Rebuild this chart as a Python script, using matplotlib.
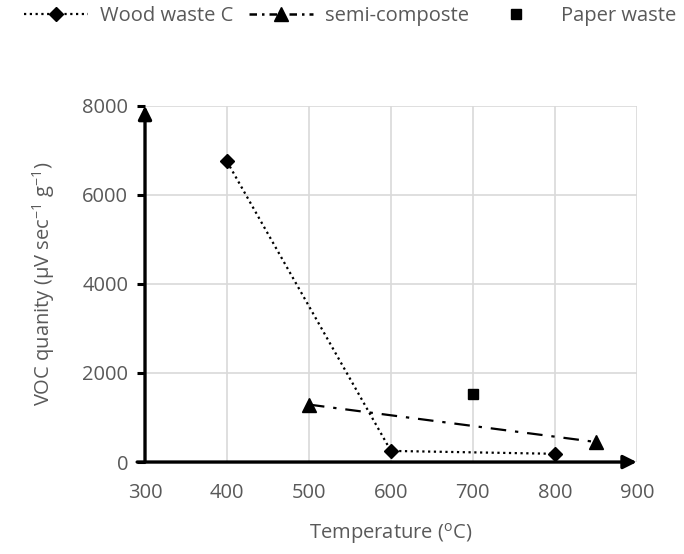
import matplotlib
matplotlib.use("Agg")
import matplotlib.pyplot as plt
from matplotlib.lines import Line2D

plt.rcParams["font.family"] = ["Open Sans", "DejaVu Sans"]
plt.rcParams["mathtext.fontset"] = "custom"
plt.rcParams["mathtext.rm"] = "Open Sans"
plt.rcParams["mathtext.it"] = "Open Sans"
plt.rcParams["mathtext.bf"] = "Open Sans"

# data
wood_temp = [400, 600, 800]
wood_voc = [6750, 250, 185]
semi_temp = [500, 850]
semi_voc = [1290, 450]
paper_temp = [700]
paper_voc = [1530]

x_ticks = [300, 400, 500, 600, 700, 800, 900]
y_ticks = [0, 2000, 4000, 6000, 8000]

text_gray = "#595959"
grid_gray = "#d9d9d9"
fs = 14.5

fig = plt.figure(figsize=(6.84, 5.54), dpi=100)
ax = fig.add_axes([0.212, 0.166, 0.719, 0.643])

ax.set_xlim(300, 900)
ax.set_ylim(0, 8000)
ax.set_xticks(x_ticks)
ax.set_yticks(y_ticks)
ax.grid(True, color=grid_gray, linewidth=1.2)
ax.set_axisbelow(True)
for s in ax.spines.values():
    s.set_visible(False)
ax.tick_params(axis="x", length=0, labelsize=fs, labelcolor=text_gray, pad=15)
ax.tick_params(axis="y", length=6, width=2.2, color="black", direction="out",
               labelsize=fs, labelcolor=text_gray, pad=6)

# axis arrows
ax.annotate("", xy=(1.0, 0), xytext=(-0.016, 0), xycoords="axes fraction",
            arrowprops=dict(arrowstyle="-|>", lw=2.4, color="black",
                            mutation_scale=20, shrinkA=0, shrinkB=0))
ax.annotate("", xy=(0, 1.0), xytext=(0, 0), xycoords="axes fraction",
            arrowprops=dict(arrowstyle="-|>", lw=2.4, color="black",
                            mutation_scale=20, shrinkA=0, shrinkB=0))

ax.plot(wood_temp, wood_voc, color="black", linestyle=(0, (1, 1.6)), linewidth=1.6,
        marker="D", markersize=7.5, clip_on=False, zorder=4)
ax.plot(semi_temp, semi_voc, color="black", linestyle=(0, (7, 4, 1.5, 4)), linewidth=1.6,
        marker="^", markersize=10, clip_on=False, zorder=4)
ax.plot(paper_temp, paper_voc, color="black", linestyle="none",
        marker="s", markersize=7.5, zorder=4)

ax.set_xlabel("Temperature ($^{o}$C)", fontsize=fs, color=text_gray, labelpad=13)
ax.set_ylabel("VOC quanity (µV sec$^{-1}$ g$^{-1}$)", fontsize=fs, color=text_gray,
              labelpad=18)

handles = [
    Line2D([], [], color="black", linestyle=(0, (1, 1.6)), linewidth=1.6,
           marker="D", markersize=7.5),
    Line2D([], [], color="black", linestyle=(0, (3, 2, 1, 2)), linewidth=1.8,
           marker="^", markersize=10),
    Line2D([], [], color="black", linestyle="none", marker="s", markersize=7.5),
]
labels = ["Wood waste C", "semi-composte", "Paper waste"]
fig.legend(handles, labels, loc="upper left", bbox_to_anchor=(0.008, 1.022),
           ncol=3, frameon=False, fontsize=fs, labelcolor=text_gray,
           handlelength=3.2, handletextpad=0.6, columnspacing=0.75)

fig.savefig("out.png", dpi=100)
